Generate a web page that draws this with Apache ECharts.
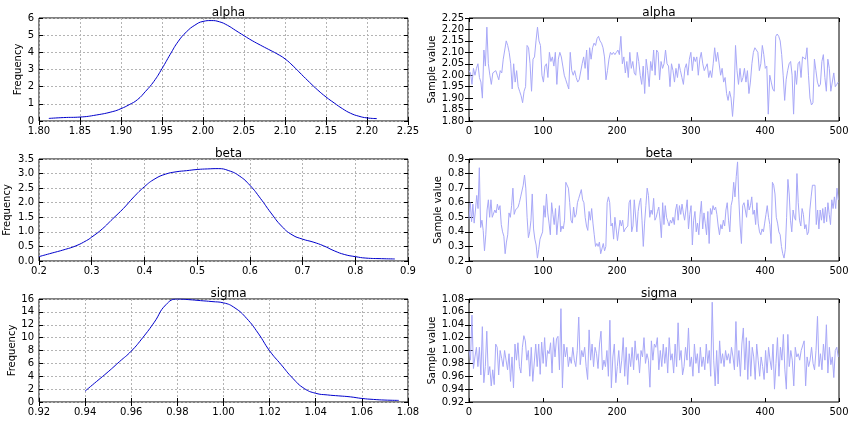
<!DOCTYPE html>
<html>
<head>
<meta charset="utf-8">
<script src="https://cdn.jsdelivr.net/npm/echarts@6/dist/echarts.min.js"></script>
<style>html,body{margin:0;padding:0;background:#fff}#c{width:859px;height:428px}</style>
</head>
<body>
<div id="c"></div>
<script>
// ---- Data ----
const paramNames = ['alpha', 'beta', 'sigma'];

const alphaKdeX = [1.812,1.83,1.85,1.87,1.89,1.90,1.91,1.92,1.93,1.94,1.95,1.96,1.97,1.98,1.99,2.00,2.01,2.02,2.03,2.04,2.05,2.06,2.07,2.08,2.09,2.10,2.11,2.12,2.13,2.14,2.15,2.16,2.17,2.18,2.19,2.20,2.212];
const alphaKdeY = [0.15,0.2,0.23,0.35,0.55,0.72,0.95,1.24,1.73,2.3,3.05,3.88,4.65,5.2,5.58,5.8,5.85,5.78,5.57,5.27,4.97,4.68,4.42,4.17,3.92,3.62,3.2,2.72,2.25,1.8,1.4,1.05,0.72,0.45,0.28,0.18,0.14];

const betaKdeX = [0.20,0.22,0.25,0.27,0.29,0.30,0.32,0.34,0.36,0.38,0.40,0.42,0.44,0.46,0.48,0.50,0.52,0.54,0.56,0.58,0.60,0.62,0.64,0.66,0.68,0.70,0.72,0.74,0.76,0.78,0.80,0.82,0.85,0.875];
const betaKdeY = [0.15,0.25,0.4,0.52,0.7,0.82,1.1,1.45,1.8,2.2,2.55,2.82,2.98,3.06,3.1,3.14,3.16,3.17,3.1,2.92,2.6,2.15,1.65,1.2,0.9,0.75,0.65,0.52,0.35,0.22,0.15,0.1,0.08,0.07];

const sigmaKdeX = [0.94,0.945,0.95,0.955,0.96,0.965,0.97,0.975,0.98,0.985,0.99,0.995,1.00,1.005,1.01,1.015,1.02,1.025,1.03,1.035,1.04,1.045,1.05,1.055,1.06,1.065,1.07,1.076];
const sigmaKdeY = [1.7,3.2,4.7,6.3,7.9,10.0,12.4,15.1,16.0,15.9,15.75,15.6,15.4,14.6,13.0,10.7,7.95,5.8,3.7,2.1,1.35,1.1,0.95,0.8,0.55,0.4,0.3,0.25];

const alphaTrace = [
2.02,2.01,1.96,2.03,2.00,2.03,
2.05,1.99,1.97,1.90,2.11,
2.04,2.21,2.05,2.00,1.96,
2.01,2.01,2.02,2.00,1.98,
2.02,2.01,2.07,2.11,2.15,
2.13,2.10,2.05,1.94,2.05,
1.97,2.02,1.95,1.93,1.91,
1.88,1.93,1.95,2.13,2.12,
2.05,1.93,2.07,2.08,2.15,
2.21,2.15,2.13,2.00,1.97,
2.04,2.05,1.99,2.10,2.06,
2.08,2.04,2.10,1.96,2.07,
2.10,2.08,2.04,2.00,1.98,
1.96,1.94,2.10,2.02,2.00,
2.02,1.99,1.97,1.98,1.98,
2.05,2.08,2.03,2.11,1.98,
2.12,2.07,2.12,2.14,2.13,
2.16,2.17,2.15,2.14,2.12,
2.08,1.98,2.02,2.07,2.10,
2.09,2.10,2.09,2.10,2.11,
2.09,2.17,2.05,2.08,2.01,
2.06,1.99,2.10,2.03,2.06,
2.01,2.00,2.10,2.06,2.00,
1.96,2.04,1.92,2.07,2.02,
1.95,2.06,2.02,2.11,
2.00,2.11,2.10,1.98,2.06,2.03,2.05,2.11,2.05,2.04,
1.95,2.05,2.02,1.97,2.03,1.99,2.05,2.02,1.99,1.96,
2.03,2.05,2.00,2.07,2.10,2.02,2.08,2.06,2.08,2.00,
2.07,2.10,2.05,2.02,2.02,2.05,1.99,2.02,1.99,2.05,
2.12,2.06,2.10,2.10,2.00,2.03,1.97,1.99,1.92,1.89,
1.93,1.90,1.82,1.91,2.13,2.02,1.96,2.03,1.97,1.99,
2.03,1.97,2.02,1.92,1.97,2.05,2.10,2.12,2.12,2.10,
2.02,2.05,2.13,2.09,2.03,2.04,1.83,2.00,1.97,1.94,
1.93,2.17,2.18,2.17,2.15,2.09,2.00,1.89,1.98,2.02,
2.05,2.06,2.00,1.83,2.02,1.96,2.05,2.06,1.99,2.08,
2.08,2.07,2.12,2.00,1.90,1.87,1.88,2.07,2.02,1.97,
1.95,1.96,2.06,2.09,1.99,1.93,2.07,2.03,1.93,1.93,
2.01,1.95,1.96,1.97
];

const betaTrace = [
0.49,0.60,0.47,0.59,0.46,0.55,0.65,0.56,0.84,0.43,0.48,0.41,0.27,0.38,0.55,0.62,0.50,0.62,0.50,0.49,
0.55,0.53,0.59,0.55,0.58,0.45,0.40,0.37,0.25,0.33,0.38,0.53,0.50,0.58,0.70,0.52,0.55,0.54,0.57,0.60,
0.64,0.68,0.72,0.79,0.70,0.50,0.36,0.40,0.48,0.66,0.42,0.35,0.31,0.22,0.28,0.35,0.35,0.40,0.58,0.50,
0.66,0.53,0.46,0.38,0.60,0.52,0.45,0.56,0.38,0.48,0.58,0.40,0.44,0.42,0.48,0.74,0.73,0.70,0.60,0.48,
0.46,0.57,0.50,0.52,0.60,0.63,0.64,0.69,0.62,0.60,0.50,0.44,0.41,0.54,0.48,0.56,0.46,0.38,0.30,0.32,
0.30,0.33,0.25,0.26,0.32,0.27,0.30,0.60,0.64,0.60,0.44,0.46,0.35,0.50,0.42,0.34,0.33,0.48,0.44,0.48,
0.40,0.42,0.42,0.44,0.60,0.62,0.40,0.44,0.62,0.63,0.40,0.54,0.60,0.63,0.48,0.30,0.46,0.58,0.70,0.65,
0.50,0.55,0.52,0.63,0.48,0.50,
0.54,0.57,0.48,0.36,0.60,0.45,0.58,0.50,0.47,0.44,0.48,0.46,0.50,0.45,0.55,0.59,0.48,0.58,0.52,0.59,
0.53,0.48,0.55,0.62,0.42,0.52,0.58,0.31,0.48,0.54,0.40,0.46,0.38,0.52,0.61,0.42,0.53,0.46,0.38,0.54,
0.32,0.56,0.52,0.58,0.55,0.57,0.52,0.44,0.38,0.45,0.42,0.48,0.44,0.55,0.60,0.48,0.40,0.58,0.62,0.74,
0.64,0.78,0.88,0.62,0.44,0.32,0.58,0.60,0.55,0.50,0.62,0.55,0.58,0.64,0.52,0.55,0.45,0.60,0.46,0.40,
0.38,0.42,0.40,0.46,0.52,0.58,0.50,0.45,0.32,0.74,0.72,0.66,0.50,0.46,0.40,0.38,0.30,0.25,0.22,0.28,
0.50,0.76,0.66,0.48,0.40,0.55,0.50,0.48,0.80,0.60,0.48,0.44,0.56,0.52,0.42,0.45,0.38,0.40,0.55,0.64,
0.72,0.73,0.72,0.45,0.55,0.42,0.55,0.48,0.56,0.46,0.57,0.47,0.60,0.52,0.45,0.62,0.56,0.64,0.56,0.70,
0.62
];

const sigmaTrace = [
1.00,0.985,1.055,0.972,0.99,1.005,0.975,1.005,0.962,1.037,0.95,0.975,1.03,0.962,0.975,0.945,0.97,0.947,1.01,1.005,
0.962,1.00,0.988,0.975,1.00,0.985,0.97,0.995,0.952,0.99,0.942,1.01,0.985,1.012,0.975,0.965,1.005,1.023,1.015,0.985,
1.00,0.96,1.005,0.952,0.955,1.01,0.975,1.01,0.963,1.013,0.98,1.02,0.975,1.00,0.995,1.012,0.965,1.02,0.99,1.018,
1.022,0.97,1.065,0.942,1.01,0.99,1.005,0.975,0.99,0.98,1.005,0.985,0.975,1.00,1.052,0.978,1.00,0.99,1.005,0.975,
0.955,1.032,0.985,1.01,0.975,1.005,0.995,0.972,1.01,1.03,0.97,0.985,0.975,1.00,0.96,1.047,0.942,0.99,1.01,0.95,
0.975,1.00,0.965,0.985,1.02,0.96,1.005,0.947,0.995,0.975,1.005,0.97,1.015,0.985,0.995,0.965,1.00,0.99,1.02,0.98,
0.995,0.985,0.943,1.015,0.985,1.01,1.005,1.02,0.97,1.00,0.975,1.01,0.98,1.005,0.965,1.02,0.985,0.995,0.965,1.01,
0.975,1.043,0.985,1.00,0.962,0.975,1.005,0.985,1.035,0.975,0.99,0.96,1.01,0.98,0.995,0.965,1.005,0.975,0.99,0.97,
1.01,0.98,1.00,0.96,1.075,0.985,0.945,1.00,0.948,1.015,0.98,0.995,0.975,1.00,0.985,0.995,0.98,1.005,0.99,0.97,
1.045,0.975,1.00,0.96,1.01,1.035,0.97,1.02,0.955,1.015,0.96,1.005,0.99,0.955,1.01,0.985,0.96,0.99,0.975,0.955,
1.00,0.965,1.005,0.985,0.97,1.01,0.94,0.98,1.02,0.96,1.005,0.985,1.025,0.97,0.94,1.025,0.975,1.00,0.985,0.945,
1.005,0.99,0.995,0.985,1.00,0.998,1.015,0.945,0.99,0.975,0.985,1.005,0.98,0.97,1.00,1.053,0.975,0.995,0.97,1.01,
0.985,1.04,0.965,1.005,0.978,0.99,0.958,1.00,1.005,0.99
];

const traceLength = 499; // last sample index

// Axis ranges: [min, max, interval, decimals]
const kdeXAxes = [[1.80, 2.25, 0.05, 2], [0.2, 0.9, 0.1, 1], [0.92, 1.08, 0.02, 2]];
const kdeYAxes = [[0, 6, 1, 0], [0, 3.5, 0.5, 1], [0, 16, 2, 0]];
const traceXAxis = [0, 500, 100, 0];
const traceYAxes = [[1.80, 2.25, 0.05, 2], [0.2, 0.9, 0.1, 1], [0.92, 1.08, 0.02, 2]];

// ---- Layout ----
const FONT = 'DejaVu Sans';
const rows = [{top: 18, height: 103}, {top: 159, height: 102}, {top: 299, height: 103}];
const cols = [{left: 39, width: 369}, {left: 469, width: 370}];
const titleTops = [2, 143, 283];
const kdeNameGaps = [16, 27, 22];
const traceNameGaps = [32, 26, 32];

const grid = [], xAxis = [], yAxis = [], series = [], title = [];

function fmt(dec) { return v => Number(v).toFixed(dec); }

function mkAxis(kind, gi, r, showLabel, split, position) {
  return {
    type: 'value', gridIndex: gi, min: r[0], max: r[1], interval: r[2], position: position,
    axisLine: {show: false},
    axisTick: {show: true, inside: true, length: 4, lineStyle: {color: '#000', width: 1}},
    axisLabel: {show: showLabel, margin: 5, color: '#000', fontFamily: FONT, fontSize: 10, formatter: fmt(r[3])},
    splitLine: {show: split, lineStyle: {color: '#b4b4b4', type: [2, 2], width: 1}}
  };
}

for (let p = 0; p < 3; p++) {
  for (let c = 0; c < 2; c++) {
    const gi = grid.length;
    grid.push({left: cols[c].left, top: rows[p].top, width: cols[c].width, height: rows[p].height,
      show: true, borderColor: '#000', borderWidth: 1, backgroundColor: 'transparent', containLabel: false});
    title.push({text: paramNames[p], left: cols[c].left + cols[c].width / 2, top: titleTops[p], textAlign: 'center',
      textStyle: {fontFamily: FONT, fontSize: 12, fontWeight: 'normal', color: '#000'}});
    const isKde = c === 0;
    const xr = isKde ? kdeXAxes[p] : traceXAxis;
    const yr = isKde ? kdeYAxes[p] : traceYAxes[p];
    const xi = xAxis.length;
    xAxis.push(mkAxis('x', gi, xr, true, isKde, 'bottom'));
    xAxis.push(mkAxis('x', gi, xr, false, false, 'top'));
    const yi = yAxis.length;
    const ya = mkAxis('y', gi, yr, true, isKde, 'left');
    ya.name = isKde ? 'Frequency' : 'Sample value';
    ya.nameLocation = 'middle';
    ya.nameRotate = 90;
    ya.nameGap = isKde ? kdeNameGaps[p] : traceNameGaps[p];
    ya.nameTextStyle = {fontFamily: FONT, fontSize: 10, color: '#000'};
    yAxis.push(ya);
    yAxis.push(mkAxis('y', gi, yr, false, false, 'right'));

    let data;
    if (isKde) {
      const xs = [alphaKdeX, betaKdeX, sigmaKdeX][p];
      const ys = [alphaKdeY, betaKdeY, sigmaKdeY][p];
      data = xs.map((x, i) => [x, ys[i]]);
    } else {
      const vals = [alphaTrace, betaTrace, sigmaTrace][p];
      data = vals.map((v, i) => [i * traceLength / (vals.length - 1), v]);
    }
    series.push({
      type: 'line', xAxisIndex: xi, yAxisIndex: yi, data: data, showSymbol: false, symbol: 'none',
      smooth: isKde ? 0.5 : false,
      lineStyle: {color: isKde ? '#0000cc' : '#a8a8f8', width: 1},
      silent: true
    });
  }
}

const chart = echarts.init(document.getElementById('c'), null, {renderer: 'canvas'});
chart.setOption({animation: false, backgroundColor: '#fff', title, grid, xAxis, yAxis, series});
</script>
</body>
</html>
